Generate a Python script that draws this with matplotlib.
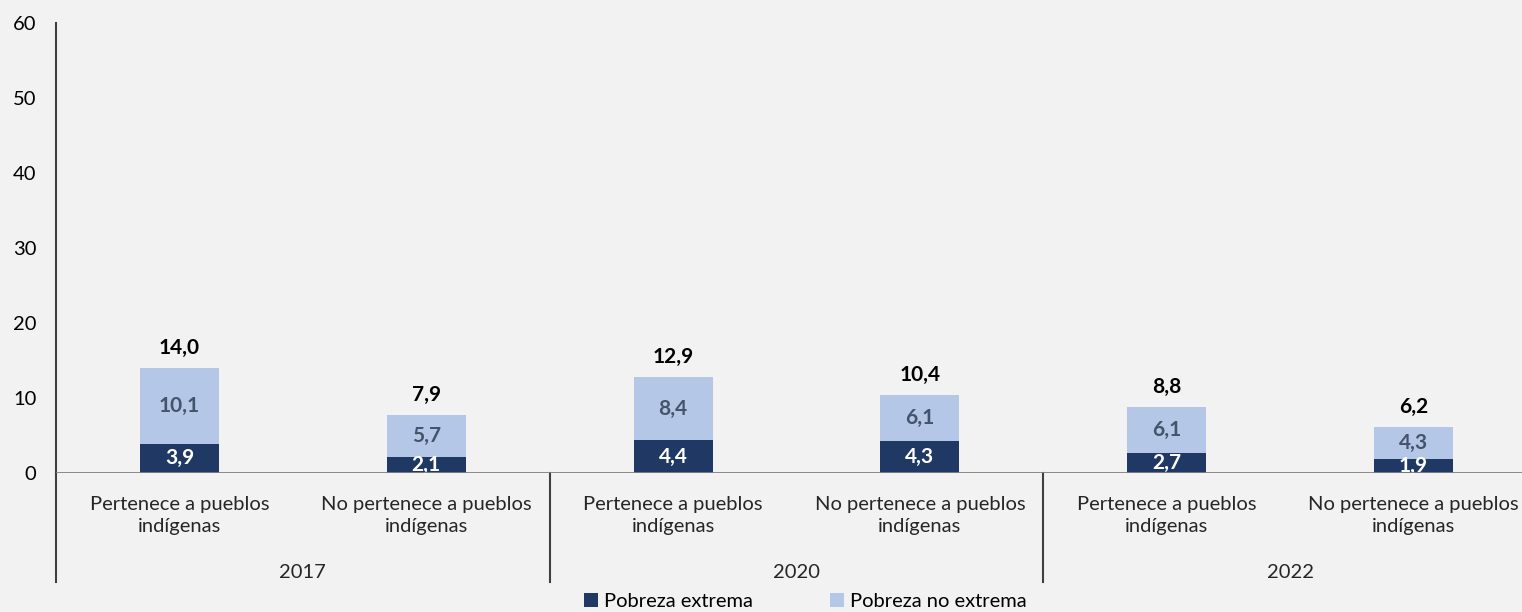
import matplotlib
matplotlib.use("Agg")
import matplotlib.pyplot as plt
from matplotlib.patches import Patch
import numpy as np

years = ["2017", "2020", "2022"]
categories = ["Pertenece a pueblos\nindígenas", "No pertenece a pueblos\nindígenas"] * 3
extrema = [3.9, 2.1, 4.4, 4.3, 2.7, 1.9]
no_extrema = [10.1, 5.7, 8.4, 6.1, 6.1, 4.3]
totales = [14.0, 7.9, 12.9, 10.4, 8.8, 6.2]
yticks = [0, 10, 20, 30, 40, 50, 60]
series_names = ["Pobreza extrema", "Pobreza no extrema"]

BG = "#F2F2F2"
DARK = "#1F3864"
LIGHT = "#B4C7E7"
FONT = "Lato"
FS = 14.5

def fmt(v):
    return f"{v:.1f}".replace(".", ",")

fig = plt.figure(figsize=(15.22, 6.12), dpi=100, facecolor=BG)
ax = fig.add_axes([56/1522, 1-473/612, 1481/1522, 450/612], facecolor=BG)

x = np.arange(len(extrema))
w = 0.32
ax.bar(x, extrema, width=w, color=DARK, zorder=2)
ax.bar(x, no_extrema, width=w, bottom=extrema, color=LIGHT, zorder=2)

for xi, e, n, t in zip(x, extrema, no_extrema, totales):
    ax.text(xi, e/2, fmt(e), ha="center", va="center", color="white",
            fontsize=15, fontweight="bold", family=FONT, zorder=3)
    ax.text(xi, e + n/2, fmt(n), ha="center", va="center", color="#44546A",
            fontsize=15, fontweight="bold", family=FONT, zorder=3)
    ax.text(xi, e + n + 1.3, fmt(t), ha="center", va="bottom", color="black",
            fontsize=15, fontweight="bold", family=FONT, zorder=3)

ax.set_xlim(-0.5, 5.5)
ax.set_ylim(0, 60)
ax.set_yticks(yticks)
ax.set_yticklabels([str(v) for v in yticks], family=FONT, fontsize=FS)
ax.tick_params(axis="y", length=0, pad=14)
ax.set_xticks([])
for s in ["top", "right", "bottom"]:
    ax.spines[s].set_visible(False)
ax.spines["left"].set_color("#404040")
ax.spines["left"].set_linewidth(1.5)
ax.axhline(0, color="#808080", lw=2, zorder=4)

trans = ax.get_xaxis_transform()
for xi, lab in zip(x, categories):
    ax.text(xi, -0.052, lab, transform=trans, ha="center", va="top",
            fontsize=FS, family=FONT, color="#262626", linespacing=1.3)
for gi, yr in enumerate(years):
    ax.text(gi*2 + 0.5, -0.22, yr, transform=trans, ha="center", va="center",
            fontsize=FS, family=FONT, color="#262626")
for sep in [-0.5, 1.5, 3.5, 5.5]:
    ax.plot([sep, sep], [0, -(582-473)/450], transform=trans, color="#404040",
            lw=1.5, clip_on=False)

handles = [Patch(facecolor=DARK), Patch(facecolor=LIGHT)]
leg = ax.legend(handles, series_names, loc="center", bbox_to_anchor=(0.506, -0.286),
                ncol=2, frameon=False, handlelength=0.7, handleheight=0.7,
                handletextpad=0.3, columnspacing=3.8, borderpad=0.2,
                prop={"family": FONT, "size": FS})

fig.savefig("out.png", dpi=100, facecolor=BG)
